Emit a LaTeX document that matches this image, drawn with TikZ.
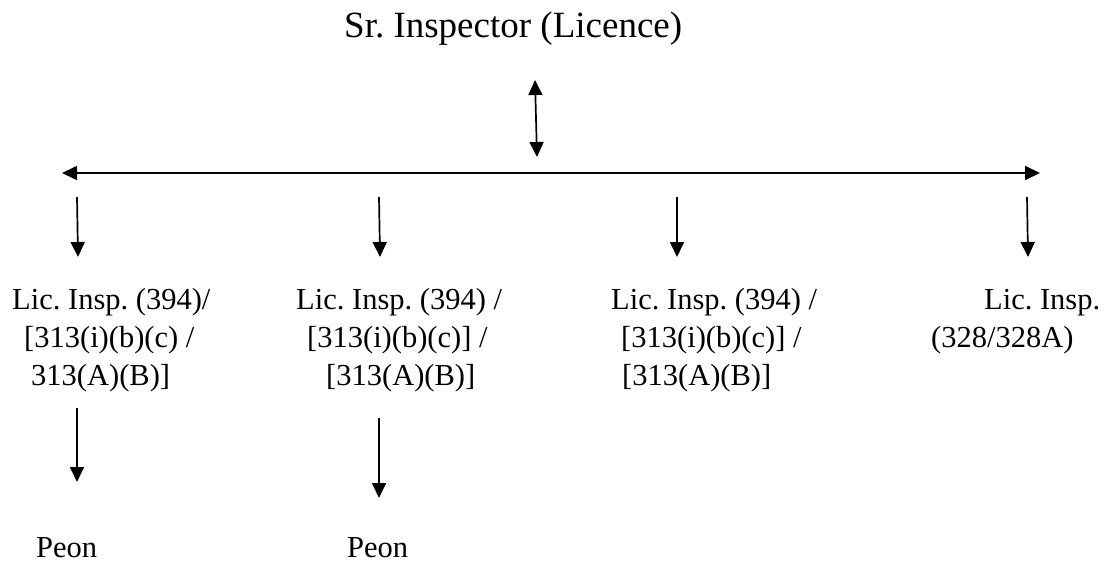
\documentclass[tikz,border=0pt]{standalone}
\usepackage{fontspec}
\setmainfont{Liberation Serif}
\frenchspacing
\usetikzlibrary{arrows.meta}
\begin{document}
\begin{tikzpicture}[x=1pt,y=-1pt,>={Triangle[length=15pt,width=14pt]}]
        \tikzstyle{post}=[inner sep=0pt,anchor=base west,align=left,font=\fontsize{30.5}{38}\selectfont]
        \tikzstyle{edge}=[line width=1.7pt]
        \useasboundingbox (0,0) rectangle (1107,565);
       \begin{scope}
         \node [post,font=\fontsize{37}{44}\selectfont] (head) at (344,37) {Sr. Inspector (Licence)};

         \node [post] (lic1) at (12,385) {Lic. Insp. (394)/\\\hspace*{12pt}[313(i)(b)(c) /\\\hspace*{19pt}313(A)(B)]};
         \node [post] (lic2) at (296,385) {Lic. Insp. (394) /\\\hspace*{11pt}[313(i)(b)(c)] /\\\hspace*{30pt}[313(A)(B)]};
         \node [post] (lic3) at (611,385) {Lic. Insp. (394) /\\\hspace*{10pt}[313(i)(b)(c)] /\\\hspace*{11pt}[313(A)(B)]};
         \node [post] (lic4) at (931,347) {\hspace*{53pt}Lic. Insp.\\(328/328A)};

         \node [post] (peon1) at (36,557) {Peon};
         \node [post] (peon2) at (347,557) {Peon};

         \coordinate (h1) at (535,80);
         \coordinate (h2) at (537,157);
         \coordinate (bl) at (62,173);
         \coordinate (br) at (1040,173);
         \coordinate (d1) at (77,197);  \coordinate (e1) at (78,257);
         \coordinate (d2) at (379,197); \coordinate (e2) at (380,257);
         \coordinate (d3) at (677,197); \coordinate (e3) at (677,257);
         \coordinate (d4) at (1027,197); \coordinate (e4) at (1028,257);
         \coordinate (p1) at (77,408);  \coordinate (q1) at (77,482);
         \coordinate (p2) at (379,418); \coordinate (q2) at (379,498);

         \path[edge] (h1) edge [<->] (h2);
         \path[edge] (bl) edge [<->] (br);
         \path[edge] (d1) edge [->] (e1);
         \path[edge] (d2) edge [->] (e2);
         \path[edge] (d3) edge [->] (e3);
         \path[edge] (d4) edge [->] (e4);
         \path[edge] (p1) edge [->] (q1);
         \path[edge] (p2) edge [->] (q2);
        \end{scope}
      \end{tikzpicture}
\end{document}
